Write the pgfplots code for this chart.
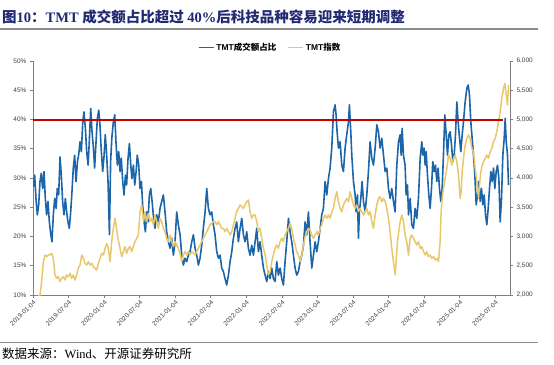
\documentclass[border=0pt]{standalone}
\usepackage{fontspec}
\setmainfont{Liberation Sans}
\newfontfamily\seriffont{Liberation Serif}
\newfontfamily\cjk{Noto Sans CJK SC}
\usepackage{pgfplots}
\pgfplotsset{compat=1.18}
\definecolor{tmtblue}{RGB}{28,101,168}
\definecolor{tmtgold}{RGB}{232,200,106}
\definecolor{tmtred}{RGB}{200,0,0}
\definecolor{titlecol}{RGB}{33,41,115}
\definecolor{axgray}{RGB}{128,128,128}
\definecolor{rulegray}{RGB}{140,140,140}
\definecolor{lblgray}{RGB}{64,64,64}
\begin{document}
\begin{tikzpicture}[x=1pt,y=1pt]
\useasboundingbox (0,0) rectangle (554,364);
\node[anchor=west, inner sep=0, text=titlecol, font=\fontsize{14.5}{17}\selectfont\bfseries] at (2,347.5) {{\cjk 图}{\seriffont 10}{\cjk ：}{\seriffont TMT }{\cjk 成交额占比超过}{\seriffont\ 40\%}{\cjk 后科技品种容易迎来短期调整}};
\node[anchor=west, inner sep=0, outer sep=0] at (0,334.5) {\textcolor{rulegray}{\rule{538pt}{2pt}}};
\node[anchor=west, inner sep=0, outer sep=0] at (0,21.5) {\textcolor{rulegray}{\rule{538pt}{1.8pt}}};
\node[anchor=west, inner sep=0, font=\fontsize{12.5}{14}\selectfont] at (2,10) {{\cjk 数据来源：}{\seriffont Wind}{\cjk 、开源证券研究所}};

\begin{axis}[
  at={(33pt,69pt)}, anchor=south west, scale only axis, width=477pt, height=234pt,
  xmin=0, xmax=80.5, ymin=10, ymax=50,
  axis x line*=bottom, axis y line*=left,
  xtick={0,6,...,78},
  xticklabels={2019-01-04,2019-07-04,2020-01-04,2020-07-04,2021-01-04,2021-07-04,2022-01-04,2022-07-04,2023-01-04,2023-07-04,2024-01-04,2024-07-04,2025-01-04,2025-07-04},
  x tick label style={rotate=45, anchor=north east, font=\fontsize{6.5}{7}\selectfont, text=lblgray, inner sep=1pt},
  ytick={10,15,...,50}, yticklabel={\pgfmathprintnumber{\tick}\%},
  y tick label style={font=\fontsize{6.5}{7}\selectfont, text=lblgray},
  tick align=outside, major tick length=3pt,
  axis line style={draw=axgray, line width=0.8pt, -},
  tick style={draw=axgray, line width=0.6pt},
  /pgf/number format/assume math mode=true,
  legend style={at={(axis description cs:0.497,1.057)}, anchor=center, draw=none, fill=none, legend columns=2, font=\fontsize{8.5}{10}\selectfont\bfseries, /tikz/every even column/.append style={column sep=9pt}, inner sep=0pt},
  legend image code/.code={\draw[#1] (0pt,0pt) -- (15pt,0pt);},
]
\addplot[tmtblue, line width=1.6pt, line join=round] coordinates {
(0.06,28.5)(0.28,30.5)(0.5,26.5)(0.73,23.7)(0.96,25.4)(1.18,29.4)(1.4,30.8)(1.63,28.2)(1.86,31.1)(2.08,26.5)(2.3,23.7)(2.53,26.0)(2.76,22.5)(3.0,20.3)(3.2,19.1)(3.43,23.7)(3.66,26.5)(3.9,24.8)(4.1,28.2)(4.33,27.1)(4.56,33.6)(4.78,30.5)(5.0,26.0)(5.23,23.7)(5.46,26.5)(5.68,24.2)(5.9,22.5)(6.13,21.4)(6.36,24.2)(6.58,27.7)(6.8,31.7)(7.03,33.9)(7.26,29.4)(7.5,32.8)(7.7,33.9)(7.94,36.2)(8.16,34.5)(8.4,39.6)(8.6,41.3)(8.84,38.5)(9.06,34.5)(9.3,32.2)(9.5,36.2)(9.74,41.9)(9.96,37.9)(10.2,35.1)(10.4,31.7)(10.64,36.2)(10.86,40.2)(11.1,41.6)(11.3,39.1)(11.5,35.1)(11.76,31.1)(12.0,33.9)(12.2,37.4)(12.4,34.5)(12.66,29.4)(12.9,20.3)(13.1,32.8)(13.3,36.8)(13.56,39.6)(13.8,40.8)(14.0,36.2)(14.24,32.2)(14.46,34.5)(14.7,31.1)(14.9,33.4)(15.14,29.4)(15.36,27.1)(15.6,30.5)(15.8,28.8)(16.04,33.4)(16.27,35.9)(16.5,32.2)(16.7,29.9)(16.94,32.2)(17.17,28.8)(17.4,31.1)(17.6,33.9)(17.84,32.2)(18.07,28.2)(18.3,29.4)(18.5,25.4)(18.74,22.5)(18.97,20.8)(19.2,24.2)(19.4,22.5)(19.64,27.1)(19.87,28.2)(20.1,26.0)(20.3,23.7)
(20.59,21.4)(20.88,23.7)(21.16,22.5)(21.44,24.8)(21.72,26.0)(22.0,27.1)(22.28,24.2)(22.56,20.8)(22.85,19.1)(23.13,18.0)(23.41,19.7)(23.69,16.8)(23.97,19.1)(24.25,24.2)(24.53,22.0)(24.82,20.3)(25.1,16.8)(25.38,15.1)(25.66,16.3)(25.94,15.7)(26.22,16.8)(26.5,17.4)(26.79,19.1)(27.07,20.3)(27.35,18.0)(27.63,16.8)(27.91,15.1)(28.19,16.3)(28.47,18.5)(28.75,21.4)(29.04,24.2)(29.32,28.2)(29.6,24.8)(29.88,23.7)(30.16,24.2)(30.44,22.0)(30.72,20.3)(31.01,17.4)(31.29,16.3)(31.57,16.8)(31.85,14.6)(32.13,14.0)(32.41,12.8)(32.69,11.7)(32.98,13.4)(33.26,15.7)(33.54,17.4)(33.82,19.7)(34.1,21.4)(34.38,22.5)(34.66,19.1)(34.95,21.4)(35.23,23.1)(35.51,20.3)(35.79,19.1)(36.07,20.8)(36.35,18.0)(36.63,16.8)(36.92,18.5)(37.2,16.8)(37.48,19.1)(37.76,21.4)(38.04,17.4)(38.32,19.1)(38.6,16.8)(38.89,14.6)(39.17,13.4)(39.45,12.3)(39.73,14.0)(40.01,12.8)(40.29,14.6)(40.57,12.8)
(40.85,12.3)(41.14,15.7)(41.42,13.4)(41.7,14.6)(41.98,12.8)(42.26,11.7)(42.54,15.7)(42.82,19.1)(43.11,23.1)(43.39,20.8)(43.67,19.1)(43.95,16.8)(44.23,14.6)(44.51,13.4)(44.79,14.0)(45.08,15.7)(45.36,16.8)(45.64,18.5)(45.92,22.5)(46.2,20.3)(46.48,24.2)(46.76,19.1)(47.05,14.6)(47.33,16.8)(47.61,19.1)(47.89,17.4)(48.17,19.1)(48.45,21.4)(48.73,23.7)(49.01,24.8)(49.3,29.4)(49.58,27.1)(49.86,29.9)(50.14,31.7)(50.42,35.1)(50.7,41.3)(50.98,42.5)(51.15,40.8)(51.32,37.9)(51.55,35.1)(51.83,36.2)(52.11,32.2)(52.39,31.1)(52.67,35.1)(52.95,37.4)(53.24,39.6)(53.4,42.5)(53.63,37.9)(53.8,33.9)(54.08,29.4)(54.36,27.1)(54.53,24.2)(54.76,27.1)(54.92,19.7)(55.09,24.2)(55.32,26.5)(55.54,29.4)(55.77,26.0)(56.05,24.2)(56.33,27.1)(56.61,31.1)(56.89,36.2)(57.17,33.4)(57.46,32.2)(57.74,35.1)(58.02,39.1)(58.3,37.9)(58.58,35.1)(58.86,36.8)(59.15,33.9)(59.43,31.1)(59.71,31.7)(59.99,28.2)(60.27,26.5)(60.55,28.2)(60.83,26.0)
(61.11,24.2)(61.4,32.2)(61.68,36.2)(61.96,37.4)(62.13,33.9)(62.3,38.5)(62.52,33.9)(62.8,32.2)(62.97,27.1)(63.2,28.8)(63.37,23.7)(63.65,26.5)(63.93,22.0)(64.21,21.4)(64.49,24.8)(64.77,23.1)(65.05,26.5)(65.34,33.4)(65.62,36.2)(65.79,33.9)(66.01,35.1)(66.18,32.2)(66.35,34.5)(66.57,30.5)(66.8,27.1)(67.02,24.8)(67.25,28.2)(67.47,32.8)(67.7,31.1)(67.92,32.2)(68.15,29.4)(68.37,31.7)(68.6,28.2)(68.82,26.0)(69.05,28.2)(69.27,33.9)(69.5,40.8)(69.73,37.4)(69.95,33.9)(70.18,37.4)(70.4,37.9)(70.63,35.6)(70.85,32.8)(71.08,33.9)(71.3,37.4)(71.53,43.0)(71.75,39.6)(71.98,36.8)(72.2,34.5)(72.43,37.4)(72.65,39.6)(72.93,43.0)(73.21,45.3)(73.44,45.9)(73.66,44.2)(73.89,39.6)(74.11,36.8)(74.34,33.9)(74.57,30.5)(74.79,25.4)(75.02,27.1)(75.24,29.4)(75.47,26.0)(75.69,28.2)(75.92,25.4)(76.14,27.1)(76.37,23.7)(76.59,22.0)(76.82,24.8)(77.04,28.2)(77.27,31.1)(77.49,29.4)(77.72,31.7)(77.94,28.2)(78.17,31.1)(78.39,32.2)(78.62,29.9)(78.84,22.5)(79.07,26.5)(79.29,33.9)(79.52,36.8)(79.69,40.2)(79.86,36.2)(80.08,33.9)(80.25,28.8)
};
\addlegendentry{TMT{\cjk 成交额占比}}
\addlegendimage{tmtgold, line width=1.6pt}
\addlegendentry{TMT{\cjk 指数}}
\end{axis}

\begin{axis}[
  at={(33pt,69pt)}, anchor=south west, scale only axis, width=477pt, height=234pt,
  xmin=0, xmax=80.5, ymin=2000, ymax=6000,
  axis x line=none, axis y line*=right,
  ytick={2000,2500,...,6000},
  y tick label style={font=\fontsize{6.5}{7}\selectfont, text=lblgray, /pgf/number format/fixed, /pgf/number format/precision=0, /pgf/number format/1000 sep={,}},
  tick align=outside, major tick length=3pt,
  axis line style={draw=axgray, line width=0.8pt, -},
  tick style={draw=axgray, line width=0.6pt},
  /pgf/number format/assume math mode=true,
]
\addplot[tmtgold, line width=1.5pt, line join=round] coordinates {
(0,1900)(1.18,2000)(1.46,2228)(1.74,2570)(2.03,2684)(2.31,2655)(2.59,2684)(2.87,2684)(3.15,2712)(3.43,2627)(3.71,2342)(4.0,2285)(4.28,2313)(4.56,2228)(4.84,2285)(5.12,2313)(5.4,2256)(5.68,2342)(5.97,2313)(6.25,2370)(6.53,2285)(6.81,2342)(7.09,2256)(7.37,2342)(7.65,2456)(7.94,2513)(8.22,2684)(8.5,2627)(8.78,2541)(9.06,2513)(9.34,2570)(9.62,2513)(9.91,2541)(10.19,2484)(10.47,2456)(10.75,2427)(11.03,2541)(11.31,2627)(11.59,2712)(11.88,2684)(12.16,2798)(12.44,2883)(12.72,2798)(13.0,2570)(13.28,2912)(13.56,3140)(13.84,3311)(14.01,3197)(14.24,3026)(14.46,2912)(14.69,2798)(14.97,2655)(15.25,2741)(15.53,2826)(15.81,2712)(16.1,2798)(16.38,2826)(16.66,2741)(16.94,2826)(17.22,2912)(17.5,2969)(17.78,3026)(18.07,3425)(18.35,3539)(18.63,3254)(18.91,3425)(19.19,3254)(19.47,3396)(19.75,3254)(20.04,3311)(20.32,3197)
(20.59,3368)(20.88,3254)(21.16,3140)(21.44,3311)(21.72,3254)(22.0,3140)(22.28,3083)(22.56,2969)(22.85,2912)(23.13,3026)(23.41,2912)(23.69,2826)(23.97,2912)(24.25,2855)(24.53,2798)(24.82,2712)(25.1,2570)(25.38,2684)(25.66,2741)(25.94,2684)(26.22,2741)(26.5,2684)(26.79,2741)(27.07,2712)(27.35,2684)(27.63,2741)(27.91,2798)(28.19,2855)(28.47,2912)(28.75,2969)(29.04,3026)(29.32,3083)(29.6,3140)(29.88,3197)(30.16,3225)(30.44,3254)(30.72,3254)(31.01,3197)(31.29,3254)(31.57,3197)(31.85,3140)(32.13,3140)(32.41,3083)(32.69,3140)(32.98,3083)(33.26,3026)(33.54,3083)(33.82,3197)(34.1,3311)(34.38,3425)(34.66,3481)(34.95,3539)(35.23,3510)(35.51,3481)(35.79,3539)(36.07,3595)(36.35,3624)(36.63,3425)(36.92,3311)(37.2,3368)(37.48,3368)(37.76,3254)(38.04,3083)(38.32,3140)(38.6,2969)(38.89,2798)(39.17,2684)(39.45,2513)(39.73,2342)(40.01,2399)(40.29,2570)(40.57,2684)
(40.85,2798)(41.14,2855)(41.42,2798)(41.7,2912)(41.98,2969)(42.26,2912)(42.54,3026)(42.82,3083)(43.11,3140)(43.39,3225)(43.67,3140)(43.95,2969)(44.23,2855)(44.51,2741)(44.79,2684)(45.08,2570)(45.36,2684)(45.64,2855)(45.92,2997)(46.2,3083)(46.48,3140)(46.76,3111)(47.05,3026)(47.33,2969)(47.61,3026)(47.89,3083)(48.17,3026)(48.45,3140)(48.73,3197)(49.01,3311)(49.3,3368)(49.58,3311)(49.86,3368)(50.14,3311)(50.42,3425)(50.7,3481)(50.98,3652)(51.27,3766)(51.55,3595)(51.83,3481)(52.11,3425)(52.39,3539)(52.67,3595)(52.95,3652)(53.24,3595)(53.52,3766)(53.8,3652)(54.08,3539)(54.36,3481)(54.64,3539)(54.92,3425)(55.21,3481)(55.49,3425)(55.77,3368)(56.05,3425)(56.33,3481)(56.61,3368)(56.89,3425)(57.17,3254)(57.46,3140)(57.74,3368)(58.02,3539)(58.3,3652)(58.58,3681)(58.86,3595)(59.15,3652)(59.43,3595)(59.71,3481)(59.99,3311)(60.27,3083)(60.55,2798)(60.83,2570)(61.12,2342)
(61.28,2570)(61.51,2912)(61.73,3083)(61.96,3254)(62.24,3368)(62.52,3254)(62.8,3026)(63.08,2912)(63.37,2684)(63.65,2969)(63.93,3026)(64.21,2969)(64.49,2912)(64.77,2855)(65.05,2912)(65.34,2798)(65.62,2826)(65.9,2741)(66.18,2684)(66.46,2741)(66.74,2655)(67.02,2684)(67.3,2627)(67.59,2655)(67.87,2598)(68.15,2627)(68.43,2570)(68.71,2912)(68.88,3425)(69.05,3652)(69.27,3823)(69.56,3994)(69.84,4165)(70.12,4393)(70.4,4336)(70.68,4222)(70.96,4336)(71.24,4393)(71.53,4279)(71.81,4051)(72.09,3652)(72.26,3766)(72.43,4108)(72.65,4336)(72.93,4564)(73.21,4678)(73.5,4735)(73.78,4678)(74.06,4507)(74.34,4450)(74.62,4165)(74.9,3937)(75.18,3652)(75.35,3880)(75.58,4108)(75.8,4222)(76.03,4279)(76.31,4336)(76.59,4393)(76.87,4336)(77.15,4450)(77.44,4507)(77.72,4621)(78.0,4678)(78.28,4792)(78.56,4963)(78.84,5134)(79.12,5362)(79.41,5533)(79.63,5618)(79.86,5419)(80.08,5248)(80.25,5590)
};
\addplot[tmtred, line width=2pt, line join=round] coordinates {(0,5000)(79.3,5000)};
\end{axis}
\end{tikzpicture}
\end{document}
